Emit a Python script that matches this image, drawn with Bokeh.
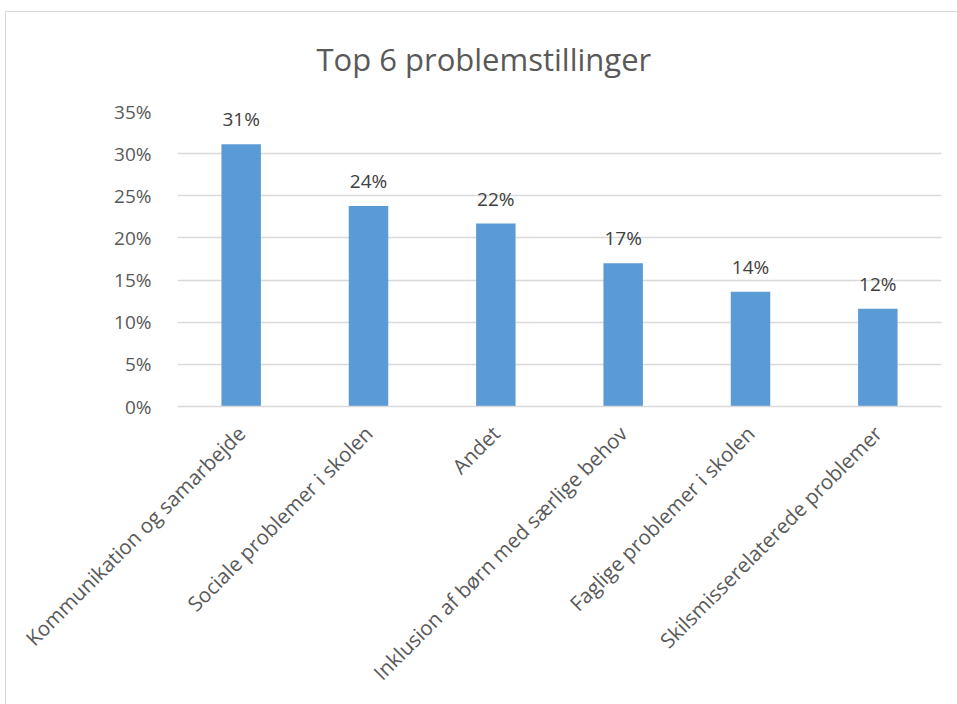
import math
from bokeh.plotting import figure
from bokeh.models import (ColumnDataSource, LabelSet, NumeralTickFormatter, FixedTicker,
                          Title, Range1d, InlineStyleSheet)
from bokeh.core.properties import value
from bokeh.embed import file_html
from bokeh.resources import INLINE

categories = [
    "Kommunikation og samarbejde",
    "Sociale problemer i skolen",
    "Andet",
    "Inklusion af børn med særlige behov",
    "Faglige problemer i skolen",
    "Skilsmisserelaterede problemer",
]
shares = [0.311, 0.238, 0.217, 0.170, 0.136, 0.116]
y_ticks = [0.0, 0.05, 0.10, 0.15, 0.20, 0.25, 0.30, 0.35]
title_text = "Top 6 problemstillinger"

labels = [f"{int(math.floor(v * 100 + 0.5))}%" for v in shares]
src = ColumnDataSource(dict(cat=categories, val=shares, lab=labels))

FONT = "Open Sans"

p = figure(
    x_range=categories,
    y_range=Range1d(0, 0.35),
    width=957,
    height=704,
    output_backend="svg",
    toolbar_location=None,
    min_border_left=177,
    min_border_right=16,
    min_border_top=111,
    min_border_bottom=298,
)
p.title = Title(text=title_text, align="left", offset=139, text_font=FONT,
                text_font_size="31px", text_font_style="normal", text_color="#595959",
                standoff=63)

# light chart-area border (left and top edges visible in the reference)
p.stylesheets = [InlineStyleSheet(css=(
    ":host::after { content: ''; position: absolute; left: 5px; top: 11px; "
    "width: 3000px; height: 3000px; border-left: 1.5px solid #d9d9d9; "
    "border-top: 1.5px solid #d9d9d9; pointer-events: none; }"
))]

p.vbar(x="cat", top="val", width=0.31, source=src, fill_color="#5B9BD5", line_color=None)

p.add_layout(LabelSet(x="cat", y="val", text="lab", source=src, text_align="center",
                      text_baseline="bottom", y_offset=12, text_font=value(FONT),
                      text_font_size=value("19px"), text_color="#404040"))

p.outline_line_color = None
p.background_fill_color = "white"
p.border_fill_color = "white"

p.xgrid.grid_line_color = None
p.ygrid.grid_line_color = "#d9d9d9"
p.ygrid.grid_line_width = 1.3

p.yaxis.ticker = FixedTicker(ticks=y_ticks)
p.yaxis.formatter = NumeralTickFormatter(format="0%")
p.yaxis.axis_line_color = None
p.yaxis.major_tick_line_color = None
p.yaxis.minor_tick_line_color = None
p.yaxis.major_label_text_font = FONT
p.yaxis.major_label_text_font_size = "19px"
p.yaxis.major_label_text_color = "#595959"
p.yaxis.major_label_standoff = 20

p.xaxis.axis_line_color = "#d9d9d9"
p.xaxis.axis_line_width = 1.3
p.xaxis.major_tick_line_color = None
p.xaxis.minor_tick_line_color = None
p.xaxis.major_label_orientation = math.pi / 4
p.xaxis.major_label_text_font = FONT
p.xaxis.major_label_text_font_size = "20.5px"
p.xaxis.major_label_text_color = "#595959"
p.xaxis.major_label_standoff = 17

open("out.html", "w").write(file_html(p, INLINE))
